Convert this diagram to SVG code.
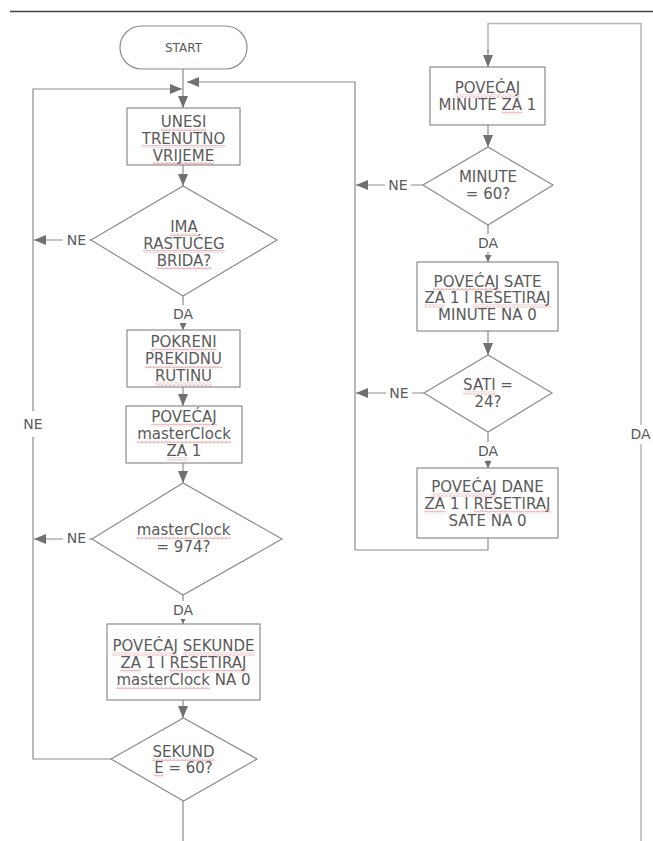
<svg xmlns="http://www.w3.org/2000/svg" width="653" height="841" viewBox="0 0 653 841">
<defs>
<style>
.n{fill:#fff;stroke:#8c8c8c;stroke-width:1.2}
.t{font-family:"DejaVu Sans",Verdana,sans-serif;font-size:15px;fill:#5a5a5a;text-anchor:middle}
.st{font-size:12px}
.lb{font-size:14px}
.c{fill:none;stroke:#8c8c8c;stroke-width:1.2}
.cl{fill:none;stroke:#b8b8b8;stroke-width:1.5}
.bg{fill:#fff}
.q{fill:url(#w)}
</style>
<pattern id="w" patternUnits="userSpaceOnUse" width="4" height="3"><path d="M0,2.5L2,0.5L4,2.5" fill="none" stroke="#e06060" stroke-width="0.8"/></pattern>
<marker id="a" markerUnits="userSpaceOnUse" markerWidth="12" markerHeight="10" viewBox="0 0 12 10" refX="12" refY="5" orient="auto"><path d="M0,0L12,5L0,10z" fill="#707070"/></marker>
<marker id="s" markerUnits="userSpaceOnUse" markerWidth="7" markerHeight="7" viewBox="0 0 7 7" refX="7" refY="3.5" orient="auto"><path d="M0,0L7,3.5L0,7z" fill="#707070"/></marker>
</defs>
<rect width="653" height="841" fill="#fff"/>
<line x1="10" y1="11.5" x2="653" y2="11.5" stroke="#404040" stroke-width="1.5"/>

<g id="connectors">
<path class="c" d="M183,69V108" marker-end="url(#a)"/>
<path class="c" d="M488,538V550H355V82H187" marker-end="url(#a)"/>
<path class="c" d="M111,759H33V437"/>
<path class="c" d="M33,411V89H182" marker-end="url(#a)"/>
<path class="c" d="M183,165V186" marker-end="url(#a)"/>
<path class="c" d="M91,240H34" marker-end="url(#a)"/>
<path class="c" d="M183,296V330" marker-end="url(#s)"/>
<path class="c" d="M183,387V406" marker-end="url(#a)"/>
<path class="c" d="M183,463V483" marker-end="url(#a)"/>
<path class="c" d="M92,539H34" marker-end="url(#a)"/>
<path class="c" d="M183,595V624" marker-end="url(#s)"/>
<path class="c" d="M183,700V718" marker-end="url(#a)"/>
<path class="c" d="M183,801V841"/>
<path class="cl" d="M641,841V23.5H488V53"/>
<path class="c" d="M488,50V67" marker-end="url(#a)"/>
<path class="c" d="M488,125V147" marker-end="url(#a)"/>
<path class="c" d="M423,185H356" marker-end="url(#a)"/>
<path class="c" d="M488,225V262" marker-end="url(#s)"/>
<path class="c" d="M488,331V355" marker-end="url(#a)"/>
<path class="c" d="M424,393H356" marker-end="url(#a)"/>
<path class="c" d="M488,432V468" marker-end="url(#s)"/>

<rect class="bg" x="63" y="232" width="26" height="16"/>
<text class="t lb" x="76.5" y="245">NE</text>
<rect class="bg" x="63" y="531" width="26" height="16"/>
<text class="t lb" x="76.5" y="543">NE</text>
<text class="t lb" x="33" y="429">NE</text>
<rect class="bg" x="170" y="305" width="26" height="18"/>
<text class="t lb" x="183" y="319">DA</text>
<rect class="bg" x="170" y="601" width="26" height="18"/>
<text class="t lb" x="183" y="615">DA</text>
<rect class="bg" x="385" y="178" width="26" height="15"/>
<text class="t lb" x="398" y="190">NE</text>
<rect class="bg" x="475" y="234" width="26" height="18"/>
<text class="t lb" x="488" y="248">DA</text>
<rect class="bg" x="386" y="386" width="26" height="15"/>
<text class="t lb" x="399" y="398">NE</text>
<rect class="bg" x="475" y="442" width="26" height="18"/>
<text class="t lb" x="488" y="455.5">DA</text>
<rect class="bg" x="629" y="425" width="24" height="19"/>
<text class="t lb" x="640.5" y="439">DA</text>
</g>

<g id="start">
<rect class="n" x="120" y="26" width="127" height="43" rx="21.5"/>
<text class="t st" x="183.5" y="52">START</text>
</g>

<g id="unesi">
<rect class="n" x="127" y="108" width="113" height="57"/>
<text class="t" x="183.5" y="126.5">UNESI</text>
<text class="t" x="183.5" y="143.5">TRENUTNO</text>
<text class="t" x="183.5" y="160.5">VRIJEME</text>
<rect class="q" x="160.7" y="128" width="45.6" height="3"/>
<rect class="q" x="141.8" y="145" width="83.5" height="3"/>
<rect class="q" x="152.8" y="162" width="61.4" height="3"/>
</g>

<g id="brid">
<polygon class="n" points="91,240 183,186 277,240 183,296"/>
<text class="t" x="184" y="231.5">IMA</text>
<text class="t" x="184" y="248.5">RASTUĆEG</text>
<text class="t" x="184" y="265.5">BRIDA?</text>
<rect class="q" x="170.2" y="233" width="27.6" height="3"/>
<rect class="q" x="143" y="250" width="81.9" height="3"/>
<rect class="q" x="156.5" y="267" width="54.9" height="3"/>
</g>

<g id="pokreni">
<rect class="n" x="127" y="330" width="113" height="57"/>
<text class="t" x="183.5" y="347">POKRENI</text>
<text class="t" x="183.5" y="364">PREKIDNU</text>
<text class="t" x="183.5" y="381">RUTINU</text>
<rect class="q" x="150.4" y="348.5" width="66.2" height="3"/>
<rect class="q" x="145" y="365.5" width="77" height="3"/>
<rect class="q" x="154.9" y="382.5" width="57.2" height="3"/>
</g>

<g id="povecaj-mc">
<rect class="n" x="126" y="406" width="116" height="57"/>
<text class="t" x="184" y="422">POVEĆAJ</text>
<text class="t" x="184" y="439">masterClock</text>
<text class="t" x="184" y="456">ZA 1</text>
<rect class="q" x="151.2" y="423.5" width="65.7" height="3"/>
<rect class="q" x="137.2" y="440.5" width="93.6" height="3"/>
<rect class="q" x="166.6" y="457.5" width="20.5" height="3"/>
</g>

<g id="mc974">
<polygon class="n" points="92,539 183,483 282,539 183,595"/>
<text class="t" x="183.5" y="535">masterClock</text>
<text class="t" x="183.5" y="552">= 974?</text>
<rect class="q" x="136.7" y="536.5" width="93.6" height="3"/>
</g>

<g id="povecaj-sekunde">
<rect class="n" x="107" y="624" width="153" height="76"/>
<text class="t" x="183.5" y="651">POVEĆAJ SEKUNDE</text>
<text class="t" x="183.5" y="668">ZA 1 I RESETIRAJ</text>
<text class="t" x="183.5" y="685">masterClock NA 0</text>
<rect class="q" x="112.2" y="652.5" width="65.7" height="3"/>
<rect class="q" x="182.7" y="652.5" width="72.1" height="3"/>
<rect class="q" x="120.3" y="669.5" width="20.5" height="3"/>
<rect class="q" x="169.1" y="669.5" width="77.6" height="3"/>
<rect class="q" x="116.4" y="686.5" width="93.6" height="3"/>
</g>

<g id="sekunde60">
<polygon class="n" points="111,759 183.5,718 257,759 183.5,801"/>
<text class="t" x="183.5" y="756.5">SEKUND</text>
<text class="t" x="183.5" y="773">E = 60?</text>
<rect class="q" x="152.2" y="758" width="62.6" height="3"/>
<rect class="q" x="154.2" y="774.5" width="9.5" height="3"/>
</g>

<g id="povecaj-minute">
<rect class="n" x="430" y="67" width="115" height="58"/>
<text class="t" x="487.5" y="93">POVEĆAJ</text>
<text class="t" x="487.5" y="110">MINUTE ZA 1</text>
<rect class="q" x="454.7" y="94.5" width="65.7" height="3"/>
<rect class="q" x="501.6" y="111.5" width="20.5" height="3"/>
</g>

<g id="minute60">
<polygon class="n" points="423,185 488,147 553,185 488,225"/>
<text class="t" x="488" y="181.5">MINUTE</text>
<text class="t" x="488" y="198.5">= 60?</text>
</g>

<g id="povecaj-sate">
<rect class="n" x="417" y="262" width="141" height="69"/>
<text class="t" x="487.5" y="286.5">POVEĆAJ SATE</text>
<text class="t" x="487.5" y="303">ZA 1 I RESETIRAJ</text>
<text class="t" x="487.5" y="319.5">MINUTE NA 0</text>
<rect class="q" x="433" y="288" width="65.7" height="3"/>
<rect class="q" x="424.3" y="304.5" width="20.5" height="3"/>
<rect class="q" x="473.1" y="304.5" width="77.6" height="3"/>
</g>

<g id="sati24">
<polygon class="n" points="424,393 488,355 552,393 488,432"/>
<text class="t" x="488" y="390">SATI =</text>
<text class="t" x="488" y="406.5">24?</text>
<rect class="q" x="462.6" y="391.5" width="33.4" height="3"/>
</g>

<g id="povecaj-dane">
<rect class="n" x="417" y="468" width="141" height="70"/>
<text class="t" x="487.5" y="492">POVEĆAJ DANE</text>
<text class="t" x="487.5" y="509">ZA 1 I RESETIRAJ</text>
<text class="t" x="487.5" y="525.5">SATE NA 0</text>
<rect class="q" x="431" y="493.5" width="65.7" height="3"/>
<rect class="q" x="424.3" y="510.5" width="20.5" height="3"/>
<rect class="q" x="473.1" y="510.5" width="77.6" height="3"/>
</g>
</svg>
